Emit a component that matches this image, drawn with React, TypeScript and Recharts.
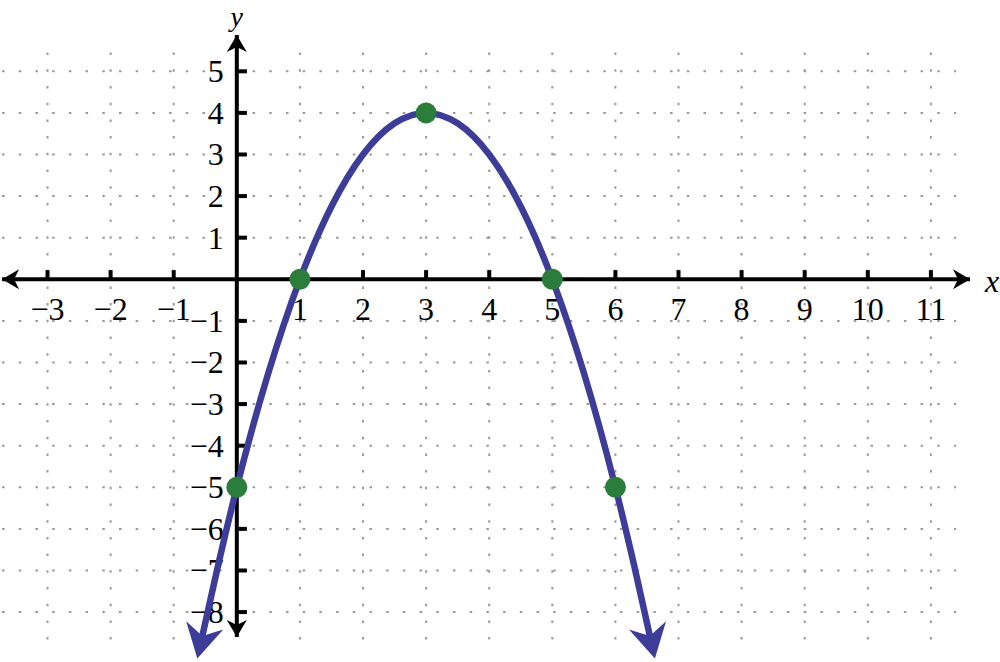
import React from 'react';
import {
  ComposedChart,
  Line,
  Scatter,
  XAxis,
  YAxis,
  ReferenceLine,
} from 'recharts';

// curve (ends sit under the arrowheads)
const curveX = [-0.55, -0.3, 0, 0.5, 1, 1.5, 2, 2.5, 3, 3.5, 4, 4.5, 5, 5.5, 6, 6.3, 6.55];
const curveY = [-8.6, -6.9, -5, -2.25, 0, 1.75, 3, 3.75, 4, 3.75, 3, 1.75, 0, -2.25, -5, -6.9, -8.6];

// highlighted points
const markX = [0, 1, 3, 5, 6];
const markY = [-5, 0, 4, 0, -5];

const xTicks = [-3, -2, -1, 1, 2, 3, 4, 5, 6, 7, 8, 9, 10, 11];
const yTicks = [5, 4, 3, 2, 1, -1, -2, -3, -4, -5, -6, -7, -8];
const gridX = [-3, -2, -1, 1, 2, 3, 4, 5, 6, 7, 8, 9, 10, 11];
const gridY = [5, 4, 3, 2, 1, -1, -2, -3, -4, -5, -6, -7, -8];

const xDomain: [number, number] = [-3.753, 12.095];
const yDomain: [number, number] = [-9.2, 6.714];
const xAxisEnds: [number, number] = [-3.72, 11.62];
const yAxisEnds: [number, number] = [-8.6, 5.87];
const gridXSpan: [number, number] = [-3.72, 11.4];
const gridYSpan: [number, number] = [-8.8, 5.45];

const curveData = curveX.map((x, i) => ({ x, y: curveY[i] }));
const markData = markX.map((x, i) => ({ x, y: markY[i] }));

const CURVE = '#3d3c99';
const DOT = '#2b7d3c';
const FONT = '"Liberation Serif", "DejaVu Serif", serif';
const fmt = (v: number) => (v < 0 ? '\u2212' + Math.abs(v) : String(v));

function arrowHead(tx: number, ty: number, ang: number, len: number, half: number, notch: number, fill: string) {
  const c = Math.cos(ang);
  const s = Math.sin(ang);
  const pt = (u: number, v: number) => `${tx + u * c - v * s},${ty + u * s + v * c}`;
  return <polygon points={[pt(0, 0), pt(-len, -half), pt(-len + notch, 0), pt(-len, half)].join(' ')} fill={fill} />;
}

const axisShape = (which: 'x' | 'y') => (p: any) => {
  const { x1, y1, x2, y2 } = p;
  const ang = Math.atan2(y2 - y1, x2 - x1);
  return (
    <g>
      <line x1={x1} y1={y1} x2={x2} y2={y2} stroke="#000" strokeWidth={4} />
      {arrowHead(x2, y2, ang, 17, 10, 5, '#000')}
      {arrowHead(x1, y1, ang + Math.PI, 17, 10, 5, '#000')}
      {which === 'x' ? (
        <text x={992} y={292} textAnchor="middle" fontFamily={FONT} fontStyle="italic" fontSize={32}>x</text>
      ) : (
        <text x={x2} y={26} textAnchor="middle" fontFamily={FONT} fontStyle="italic" fontSize={28}>y</text>
      )}
    </g>
  );
};

const xTickShape = (v: number) => (p: any) => (
  <g>
    <line x1={p.x1} y1={p.y1} x2={p.x2} y2={p.y2} stroke="#000" strokeWidth={4} />
    <text x={p.x1} y={p.y1 + 41} textAnchor="middle" fontFamily={FONT} fontSize={32}>{fmt(v)}</text>
  </g>
);

const yTickShape = (v: number) => (p: any) => (
  <g>
    <line x1={p.x1} y1={p.y1} x2={p.x2} y2={p.y2} stroke="#000" strokeWidth={4} />
    <text x={p.x1 - 13} y={p.y1 + 11} textAnchor="end" fontFamily={FONT} fontSize={32}>{fmt(v)}</text>
  </g>
);

const gridShape = (p: any) => (
  <line x1={p.x1} y1={p.y1} x2={p.x2} y2={p.y2} stroke="#9a9a9a" strokeWidth={2} strokeDasharray="2.5 14.2" />
);

const CurveEnd = (p: any) => {
  const { cx, cy, index, points } = p;
  const last = curveData.length - 1;
  if ((index !== 0 && index !== last) || !points) return <g key={`e-${index}`} />;
  const nb = index === 0 ? points[1] : points[last - 1];
  const ang = Math.atan2(cy - nb.y, cx - nb.x);
  const tx = cx + 22 * Math.cos(ang);
  const ty = cy + 22 * Math.sin(ang);
  return <g key={`e-${index}`}>{arrowHead(tx, ty, ang, 34, 19, 11, CURVE)}</g>;
};

export default function App() {
  return (
    <div style={{ width: 1000, height: 662, background: '#fff' }}>
      <style>{'body{margin:0}'}</style>
      <ComposedChart width={1000} height={662} data={curveData} margin={{ top: 0, right: 0, bottom: 0, left: 0 }}>
        <XAxis type="number" dataKey="x" domain={xDomain} hide allowDataOverflow />
        <YAxis type="number" dataKey="y" domain={yDomain} hide allowDataOverflow />
        {gridY.map((v) => (
          <ReferenceLine key={`gy${v}`} segment={[{ x: gridXSpan[0], y: v }, { x: gridXSpan[1], y: v }]} shape={gridShape} ifOverflow="visible" />
        ))}
        {gridX.map((v) => (
          <ReferenceLine key={`gx${v}`} segment={[{ x: v, y: gridYSpan[1] }, { x: v, y: gridYSpan[0] }]} shape={gridShape} ifOverflow="visible" />
        ))}
        <ReferenceLine segment={[{ x: xAxisEnds[0], y: 0 }, { x: xAxisEnds[1], y: 0 }]} shape={axisShape('x')} ifOverflow="visible" />
        <ReferenceLine segment={[{ x: 0, y: yAxisEnds[0] }, { x: 0, y: yAxisEnds[1] }]} shape={axisShape('y')} ifOverflow="visible" />
        {xTicks.map((v) => (
          <ReferenceLine key={`tx${v}`} segment={[{ x: v, y: 0 }, { x: v, y: 0.22 }]} shape={xTickShape(v)} ifOverflow="visible" />
        ))}
        {yTicks.map((v) => (
          <ReferenceLine key={`ty${v}`} segment={[{ x: 0, y: v }, { x: 0.16, y: v }]} shape={yTickShape(v)} ifOverflow="visible" />
        ))}
        <Line
          type="monotone"
          dataKey="y"
          stroke={CURVE}
          strokeWidth={6.5}
          dot={CurveEnd}
          activeDot={false}
          isAnimationActive={false}
        />
        <Scatter
          data={markData}
          dataKey="y"
          fill={DOT}
          isAnimationActive={false}
          shape={(p: any) => <circle cx={p.cx} cy={p.cy} r={10.5} fill={DOT} />}
        />
      </ComposedChart>
    </div>
  );
}
